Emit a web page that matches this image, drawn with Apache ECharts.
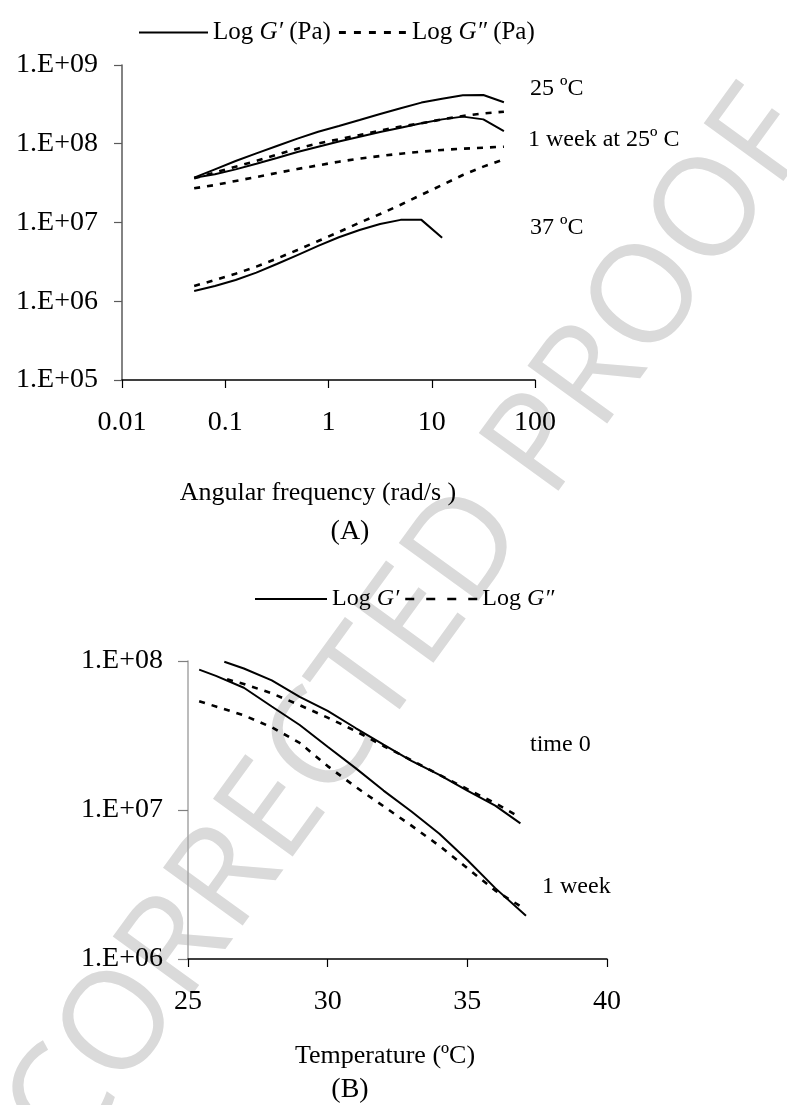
<!DOCTYPE html>
<html><head><meta charset="utf-8">
<script src="https://cdn.jsdelivr.net/npm/echarts@6/dist/echarts.min.js"></script>
<style>html,body{margin:0;padding:0;background:#fff}#c{width:787px;height:1105px}</style>
</head><body><div id="c"></div>
<script>
// ---------- Panel A: frequency sweep ----------
const freqA = [0.05, 0.0794, 0.126, 0.2, 0.316, 0.5, 0.794, 1.26, 2, 3.16, 5, 7.94, 12.6, 20, 31.6, 50];
const gp25C   = [3.71e7, 4.73e7, 6.04e7, 7.55e7, 9.35e7, 1.16e8, 1.42e8, 1.68e8, 2.00e8, 2.39e8, 2.82e8, 3.33e8, 3.73e8, 4.12e8, 4.16e8, 3.36e8];
const gpp25C  = [3.64e7, 4.30e7, 5.12e7, 6.04e7, 7.26e7, 8.65e7, 1.01e8, 1.14e8, 1.29e8, 1.47e8, 1.65e8, 1.82e8, 2.04e8, 2.25e8, 2.43e8, 2.55e8];
const gp1wk   = [3.71e7, 4.09e7, 4.73e7, 5.58e7, 6.59e7, 7.85e7, 9.18e7, 1.07e8, 1.23e8, 1.41e8, 1.60e8, 1.82e8, 2.04e8, 2.21e8, 2.04e8, 1.45e8];
const gpp1wk  = [2.72e7, 2.99e7, 3.37e7, 3.78e7, 4.26e7, 4.78e7, 5.32e7, 5.92e7, 6.47e7, 6.98e7, 7.48e7, 7.93e7, 8.34e7, 8.65e7, 8.91e7, 9.18e7];
const gp37C   = [1.35e6, 1.56e6, 1.86e6, 2.31e6, 2.97e6, 3.86e6, 5.04e6, 6.49e6, 8.04e6, 9.57e6, 1.08e7, 1.08e7, 6.41e6];
const gpp37C  = [1.56e6, 1.86e6, 2.24e6, 2.75e6, 3.48e6, 4.48e6, 5.82e6, 7.57e6, 9.95e6, 1.28e7, 1.68e7, 2.25e7, 2.99e7, 4.01e7, 5.12e7, 6.34e7];
const xTicksA = ['0.01', '0.1', '1', '10', '100'];
const yTicksA = ['1.E+05', '1.E+06', '1.E+07', '1.E+08', '1.E+09'];

// ---------- Panel B: temperature sweep ----------
const tempT0   = [26.3, 27, 28, 29, 30, 31, 32, 33, 34, 35, 36, 36.9];
const gpT0     = [9.89e7, 8.91e7, 7.41e7, 5.75e7, 4.62e7, 3.55e7, 2.75e7, 2.14e7, 1.72e7, 1.35e7, 1.07e7, 8.13e6];
const tempT0pp = [26.4, 27, 28, 29, 30, 31, 32, 33, 34, 35, 36, 36.7];
const gppT0    = [7.53e7, 7.01e7, 6.07e7, 5.05e7, 4.17e7, 3.39e7, 2.69e7, 2.16e7, 1.72e7, 1.38e7, 1.11e7, 9.33e6];
const tempW1   = [25.4, 26, 27, 28, 29, 30, 31, 32, 33, 34, 35, 36, 37.1];
const gpW1     = [8.75e7, 7.94e7, 6.61e7, 4.95e7, 3.72e7, 2.66e7, 1.91e7, 1.35e7, 9.77e6, 6.92e6, 4.62e6, 2.99e6, 1.95e6];
const tempW1pp = [25.4, 26, 27, 28, 29, 30, 31, 32, 33, 34, 35, 36, 36.9];
const gppW1    = [5.37e7, 4.95e7, 4.32e7, 3.59e7, 2.82e7, 1.97e7, 1.43e7, 1.06e7, 7.85e6, 5.75e6, 4.07e6, 2.88e6, 2.26e6];
const xTicksB = ['25', '30', '35', '40'];
const yTicksB = ['1.E+06', '1.E+07', '1.E+08'];

const nameGpA = 'Log G′ (Pa)', nameGppA = 'Log G″ (Pa)';
const nameGpB = 'Log G′', nameGppB = 'Log G″';

const SERIF = '"Liberation Serif", "Times New Roman", "DejaVu Serif", serif';
const solid = { color: '#000', width: 2, type: 'solid' };
const dotted = { color: '#000', width: 2.6, type: [6, 7] };

// legend icons: a solid bar and a row of short dashes
const iconSolid = 'path://M0,0H70V2H0Z';
const iconDashA = 'path://M0,0H6V2.6H0Z M13,0H19V2.6H13Z M26,0H32V2.6H26Z M39,0H45V2.6H39Z M52,0H58V2.6H52Z';
const iconDashB = 'path://M0,0H9V2.6H0Z M21,0H30V2.6H21Z M42,0H51V2.6H42Z M63,0H72V2.6H63Z';

function pairs(xs, ys) { return ys.map((v, i) => [xs[i], v]); }
function line(name, data, style, axis) {
  return { type: 'line', name: name, data: data, xAxisIndex: axis, yAxisIndex: axis,
    symbol: 'none', showSymbol: false, lineStyle: style, itemStyle: { color: '#000' },
    clip: false, silent: true, animation: false, z: 3 };
}
const legendFmt = n => n.replace(/G[′″]/, m => '{i|' + m + '}');
const legendText = size => ({ fontFamily: SERIF, fontSize: size, color: '#000',
  rich: { i: { fontFamily: SERIF, fontSize: size, fontStyle: 'italic', color: '#000' } } });
const tickLbl = { fontFamily: SERIF, fontSize: 28, color: '#000' };
function annot(text, x, y, size, align) {
  return { type: 'text', x: x, y: y, z: 5, silent: true,
    style: { text: text, font: size + 'px ' + SERIF, fill: '#000', align: align || 'left', verticalAlign: 'middle' } };
}

const chart = echarts.init(document.getElementById('c'), null, { renderer: 'canvas' });
const option = {
  backgroundColor: '#fff',
  animation: false,
  grid: [
    { left: 122, top: 65, width: 413, height: 315 },
    { left: 188, top: 661, width: 419, height: 298 }
  ],
  legend: [
    { data: [{ name: nameGpA, icon: iconSolid }, { name: nameGppA, icon: iconDashA }],
      left: 134, top: 15, itemWidth: 69, itemHeight: 3, itemGap: 8,
      formatter: legendFmt, textStyle: legendText(25), selectedMode: false },
    { data: [{ name: nameGpB, icon: iconSolid }, { name: nameGppB, icon: iconDashB }],
      left: 250, top: 582, itemWidth: 72, itemHeight: 3, itemGap: 6,
      formatter: legendFmt, textStyle: legendText(24), selectedMode: false }
  ],
  xAxis: [
    { type: 'log', logBase: 10, min: 0.01, max: 100, gridIndex: 0,
      axisLine: { onZero: false, lineStyle: { color: '#000', width: 1.5 } },
      axisTick: { length: 8, lineStyle: { color: '#000', width: 1.2 } },
      axisLabel: Object.assign({ margin: 29, formatter: v => xTicksA[Math.round(Math.log10(v)) + 2] }, tickLbl),
      splitLine: { show: false }, minorTick: { show: false } },
    { type: 'value', min: 25, max: 40, interval: 5, gridIndex: 1,
      axisLine: { onZero: false, lineStyle: { color: '#000', width: 1.5 } },
      axisTick: { length: 8, lineStyle: { color: '#000', width: 1.2 } },
      axisLabel: Object.assign({ margin: 29, formatter: v => xTicksB[Math.round((v - 25) / 5)] }, tickLbl),
      splitLine: { show: false } }
  ],
  yAxis: [
    { type: 'log', logBase: 10, min: 1e5, max: 1e9, gridIndex: 0,
      axisLine: { show: true, onZero: false, lineStyle: { color: '#5a5a5a', width: 1.5 } },
      axisTick: { show: true, length: 8, lineStyle: { color: '#5a5a5a', width: 1.2 } },
      axisLabel: Object.assign({ margin: 24, formatter: v => yTicksA[Math.round(Math.log10(v)) - 5] }, tickLbl),
      splitLine: { show: false } },
    { type: 'log', logBase: 10, min: 1e6, max: 1e8, gridIndex: 1,
      axisLine: { show: true, onZero: false, lineStyle: { color: '#a6a6a6', width: 1.5 } },
      axisTick: { show: true, length: 10, lineStyle: { color: '#7f7f7f', width: 1.2 } },
      axisLabel: Object.assign({ margin: 25, formatter: v => yTicksB[Math.round(Math.log10(v)) - 6] }, tickLbl),
      splitLine: { show: false } }
  ],
  graphic: [
    { type: 'text', x: 352, y: 708, rotation: 54 * Math.PI / 180, z: -10, zlevel: 0, silent: true,
      style: { text: 'UNCORRECTED PROOF', font: '500 138px "Open Sans", "Liberation Sans", sans-serif',
        fill: '#dadada', align: 'center', verticalAlign: 'middle' } },
    annot('25 ºC', 530, 89, 24),
    annot('1 week at 25º C', 528, 140, 24),
    annot('37 ºC', 530, 228, 24),
    annot('Angular frequency (rad/s )', 318, 493, 26, 'center'),
    annot('(A)', 350, 532, 28, 'center'),
    annot('time 0', 530, 745, 24),
    annot('1 week', 542, 887, 24),
    annot('Temperature (ºC)', 385, 1056, 26, 'center'),
    annot('(B)', 350, 1090, 28, 'center')
  ],
  series: [
    line(nameGpA, pairs(freqA, gp25C), solid, 0),
    line(nameGpA, pairs(freqA, gp1wk), solid, 0),
    line(nameGpA, pairs(freqA, gp37C), solid, 0),
    line(nameGppA, pairs(freqA, gpp25C), dotted, 0),
    line(nameGppA, pairs(freqA, gpp1wk), dotted, 0),
    line(nameGppA, pairs(freqA, gpp37C), dotted, 0),
    line(nameGpB, pairs(tempT0, gpT0), solid, 1),
    line(nameGpB, pairs(tempW1, gpW1), solid, 1),
    line(nameGppB, pairs(tempT0pp, gppT0), dotted, 1),
    line(nameGppB, pairs(tempW1pp, gppW1), dotted, 1)
  ]
};
chart.setOption(option);
</script></body></html>
